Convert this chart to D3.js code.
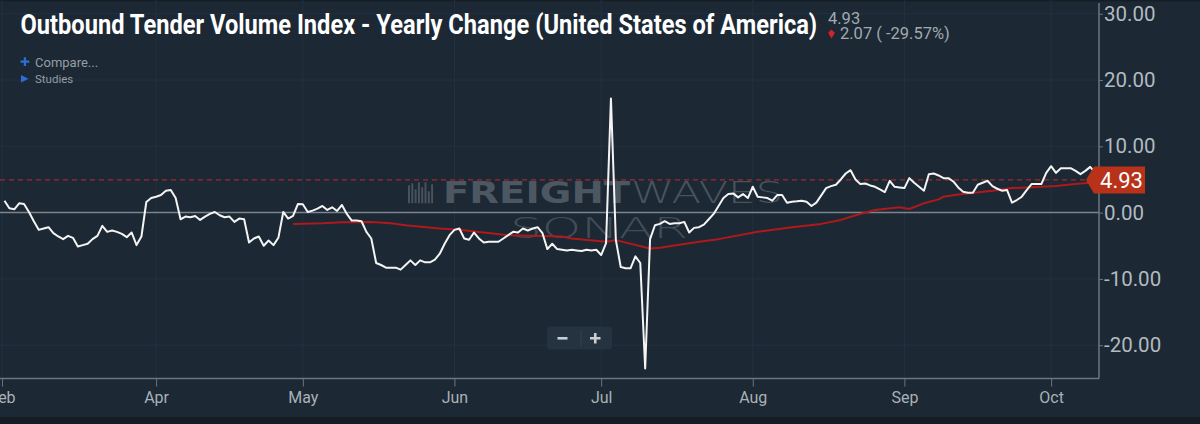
<!DOCTYPE html>
<html><head><meta charset="utf-8">
<script src="https://cdn.jsdelivr.net/npm/d3@7/dist/d3.min.js"></script>
<style>html,body{margin:0;padding:0;background:#1c2833;overflow:hidden}</style>
</head><body>
<svg id="chart" width="1200" height="424"></svg>
<script>
// ---------- data ----------
const chartTitle = "Outbound Tender Volume Index - Yearly Change (United States of America)";
const seriesStart = "2019-03-01";           // first daily observation
const otviValues = [
  1.8, 0.65, 0.5, 1.4, 1.3, 0.1, -1.3, -2.6, -2.4, -2.2,
  -3.1, -3.6, -4.0, -3.5, -3.8, -5.1, -4.9, -4.7, -4.0, -3.5,
  -2.0, -2.9, -2.7, -2.9, -3.2, -3.7, -3.0, -4.9, -3.6, 1.6,
  2.2, 2.4, 2.65, 3.3, 3.4, 2.2, -1.0, -0.6, -0.7, -0.5,
  -1.1, -0.6, -0.2, 0.1, -0.4, -0.7, -0.6, -1.4, -0.9, -1.0,
  -4.5, -3.9, -3.6, -5.0, -4.2, -4.9, -3.8, 0.1, -0.9, -0.5,
  1.3, 1.25, 0.1, 0.3, 0.6, 1.0, 0.4, 0.8, 0.25, 1.15,
  -0.2, -1.2, -1.2, -1.3, -2.9, -3.9, -7.6, -7.9, -8.3, -8.3,
  -8.3, -8.6, -7.9, -7.2, -7.9, -7.2, -7.5, -7.5, -7.1, -6.2,
  -4.7, -3.4, -2.6, -2.4, -3.9, -4.1, -3.0, -3.9, -4.5, -4.4,
  -4.4, -4.4, -3.9, -3.4, -2.9, -3.0, -2.4, -2.7, -2.4, -2.2,
  -3.1, -5.5, -4.7, -5.5, -5.6, -5.7, -5.6, -5.7, -5.8, -5.6,
  -5.7, -5.6, -6.4, -4.6, 17.2, -4.1, -8.2, -8.4, -8.4, -6.6,
  -7.6, -23.5, -4.0, -1.9, -1.7, -1.3, -1.7, -1.6, -1.6, -1.4,
  -3.0, -2.3, -2.2, -1.8, -1.0, -0.2, 1.0, 2.2, 2.8, 2.9,
  2.3, 2.8, 2.2, 3.9, 2.4, 2.3, 2.2, 1.8, 2.65, 2.65,
  1.5, 1.65, 1.7, 1.8, 1.65, 1.0, 1.5, 2.6, 3.7, 4.0,
  4.2, 5.0, 5.9, 6.4, 5.0, 4.3, 4.4, 4.1, 3.9, 3.5,
  3.1, 4.8, 3.9, 3.8, 3.7, 5.2, 4.5, 3.9, 3.3, 5.8,
  5.9, 5.6, 5.2, 5.2, 4.7, 3.8, 3.15, 3.0, 3.0, 4.2,
  4.5, 4.8, 4.0, 3.6, 3.3, 3.4, 1.5, 1.9, 2.4, 3.4,
  4.3, 4.3, 4.3, 6.0, 7.0, 6.0, 6.7, 6.7, 6.7, 6.3,
  5.8, 6.3, 6.9, 6.0
];
// moving-average (red) series: day offsets from seriesStart and values
const maDays = [59, 65, 69, 75, 79, 82, 89, 93, 103, 114, 116, 123, 125, 132, 134, 142, 146, 154, 161, 167,
  171, 174, 178, 183, 185, 188, 191, 192, 195, 202, 206, 212, 215, 220, 222];
const maValues = [-1.7, -1.6, -1.45, -1.4, -1.6, -1.9, -2.4, -2.6, -3.4, -3.6, -3.9, -4.4, -4.15, -5.4, -5.3, -4.4, -4.0, -2.9, -2.2, -1.7,
  -1.1, -0.4, 0.4, 0.8, 0.55, 1.4, 2.0, 2.4, 2.75, 3.3, 3.7, 3.9, 4.0, 4.4, 4.5];
const lastValue = 4.93;
const changeValue = "2.07";
const changePct = "( -29.57%)";
const yTickValues = [-20, -10, 0, 10, 20, 30];
const xTickDates = ["2019-02-28T12:00", "2019-04-01", "2019-05-01", "2019-06-01", "2019-07-01", "2019-08-01", "2019-09-01", "2019-10-01"];
const xTickLabels = ["Feb", "Apr", "May", "Jun", "Jul", "Aug", "Sep", "Oct"];

// ---------- layout ----------
const W = 1200, H = 424;
const plotRight = 1099, plotBottom = 378.5;
const svg = d3.select("#chart");
const parse = d3.isoParse;
const start = parse(seriesStart + "T00:00");

const x = d3.scaleTime()
  .domain([new Date(2019, 1, 28, 2), new Date(2019, 9, 10, 19)])
  .range([0, plotRight]);
const y = d3.scaleLinear().domain([-25.02, 32.07]).range([plotBottom, 0]);

const otvi = otviValues.map((v, i) => ({ date: d3.timeDay.offset(start, i), value: v }));
const ma = maDays.map((d, i) => ({ date: d3.timeDay.offset(start, d), value: maValues[i] }));
const tickDates = xTickDates.map(s => parse(s.length > 10 ? s : s + "T00:00"));

// background
svg.append("rect").attr("width", W).attr("height", H).attr("fill", "#1c2833");
svg.append("rect").attr("width", W).attr("height", 1.5).attr("fill", "#151e27");
svg.append("rect").attr("y", 417).attr("width", W).attr("height", 7).attr("fill", "#141c24");

// grid
const grid = svg.append("g").attr("stroke", "#233140").attr("stroke-width", 1);
grid.selectAll("line.h").data(yTickValues).join("line")
  .attr("x1", 0).attr("x2", plotRight).attr("y1", d => y(d)).attr("y2", d => y(d));
grid.selectAll("line.v").data(tickDates).join("line")
  .attr("y1", 0).attr("y2", plotBottom).attr("x1", d => x(d)).attr("x2", d => x(d));

// watermark
const wm = svg.append("g").attr("opacity", 0.9);
const barH = [18, 20, 14, 21, 16, 21, 12, 19];
wm.selectAll("rect").data(barH).join("rect")
  .attr("x", (d, i) => 408 + i * 3.3).attr("width", 2)
  .attr("y", d => 203.3 - d).attr("height", d => d).attr("fill", "#4c5762");
wm.append("text").attr("x", 443).attr("y", 203.3).text("FREIGHT")
  .attr("font-family", "DejaVu Sans").attr("font-weight", 700).attr("font-size", 30)
  .attr("textLength", 187).attr("lengthAdjust", "spacingAndGlyphs").attr("fill", "#525d68");
wm.append("text").attr("x", 631).attr("y", 203.3).text("WAVES")
  .attr("font-family", "DejaVu Sans").attr("font-weight", 200).attr("font-size", 30)
  .attr("textLength", 152).attr("lengthAdjust", "spacingAndGlyphs").attr("fill", "#4d5863");
wm.append("text").attr("x", 510).attr("y", 238).text("SONAR")
  .attr("font-family", "DejaVu Sans").attr("font-weight", 200).attr("font-size", 29)
  .attr("textLength", 178).attr("lengthAdjust", "spacingAndGlyphs").attr("fill", "#46515c");

// zero line
svg.append("line").attr("x1", 0).attr("x2", plotRight).attr("y1", y(0)).attr("y2", y(0))
  .attr("stroke", "#7b858e").attr("stroke-width", 1.5);
// last value dashed line
svg.append("line").attr("x1", 0).attr("x2", plotRight).attr("y1", y(lastValue)).attr("y2", y(lastValue))
  .attr("stroke", "#a3282a").attr("stroke-width", 1.2).attr("stroke-dasharray", "5,4");

// series
const line = d3.line().x(d => x(d.date)).y(d => y(d.value));
svg.append("path").datum(ma).attr("d", line).attr("fill", "none")
  .attr("stroke", "#b0191c").attr("stroke-width", 2).attr("stroke-linejoin", "round");
svg.append("path").datum(otvi).attr("d", line).attr("fill", "none")
  .attr("stroke", "#f4f4f4").attr("stroke-width", 2).attr("stroke-linejoin", "round");

// axes
const yAxis = d3.axisRight(y).tickValues(yTickValues).tickSize(4).tickSizeOuter(0).tickPadding(1)
  .tickFormat(d => d.toFixed(2));
const gy = svg.append("g").attr("transform", `translate(${plotRight},0)`).call(yAxis);
gy.select(".domain").attr("stroke", "#6c7680").attr("stroke-width", 1.5).attr("d", `M0,3V${plotBottom}`);
gy.selectAll(".tick line").attr("stroke", "#6c7680");
gy.selectAll("text").attr("fill", "#b3bac0").attr("font-family", "Roboto").attr("font-size", 20.5);

const xAxis = d3.axisBottom(x).tickValues(tickDates).tickSize(8).tickSizeOuter(0).tickPadding(5)
  .tickFormat((d, i) => xTickLabels[i]);
const gx = svg.append("g").attr("transform", `translate(0,${plotBottom})`).call(xAxis);
gx.select(".domain").attr("stroke", "#6c7680").attr("stroke-width", 1.5).attr("d", `M0,0H${plotRight}`);
gx.selectAll(".tick line").attr("stroke", "#6c7680");
gx.selectAll("text").attr("fill", "#a9b1b8").attr("font-family", "Roboto").attr("font-size", 16);

// last value badge
const yv = y(lastValue);
const badge = d3.path();
badge.moveTo(1086, yv); badge.lineTo(1094, yv - 13.5); badge.lineTo(1145, yv - 13.5);
badge.lineTo(1145, yv + 13.5); badge.lineTo(1094, yv + 13.5); badge.closePath();
svg.append("path").attr("d", badge.toString()).attr("fill", "#b8321a");
svg.append("text").attr("x", 1121.5).attr("y", yv).attr("dy", "0.36em").attr("text-anchor", "middle")
  .text(lastValue.toFixed(2)).attr("fill", "#ffffff").attr("font-family", "Roboto").attr("font-size", 22);

// header: condensed bold title (horizontally scaled to the reference width)
const titleEl = svg.append("text").attr("x", 0).attr("y", 0).text(chartTitle)
  .attr("font-family", "Roboto").attr("font-weight", 700).attr("font-size", 27).attr("fill", "#ffffff");
const natural = titleEl.node().getComputedTextLength() || 1057;
titleEl.attr("transform", `translate(20.5,33.5) scale(${797 / natural},1)`);

svg.append("text").attr("x", 828).attr("y", 23.5).text(lastValue.toFixed(2))
  .attr("font-family", "Roboto").attr("font-size", 16.5).attr("fill", "#a2aab1");
svg.append("path").attr("d", "M828.5,32.5 L831.5,29.5 L834.5,32.5 L834.5,33.5 L831.5,38.5 L828.5,33.5 Z").attr("fill", "#d0232a");
svg.append("text").attr("x", 840).attr("y", 38.5).text(changeValue + " " + changePct)
  .attr("font-family", "Roboto").attr("font-size", 16.5).attr("fill", "#a2aab1");

svg.append("path").attr("d", "M20.5,61.7H29.3M24.9,57.3V66").attr("stroke", "#2d6fd6").attr("stroke-width", 2.2);
svg.append("text").attr("x", 35).attr("y", 66.5).text("Compare...")
  .attr("font-family", "Roboto").attr("font-size", 13).attr("fill", "#959ea6");
svg.append("path").attr("d", "M21,75 L28.5,78.7 L21,82.4 Z").attr("fill", "#2d6fd6");
svg.append("text").attr("x", 35).attr("y", 82.5).text("Studies")
  .attr("font-family", "Roboto").attr("font-size", 11.5).attr("fill", "#959ea6");

// zoom buttons
const zb = svg.append("g");
zb.append("rect").attr("x", 547).attr("y", 326.5).attr("width", 65).attr("height", 23).attr("rx", 3).attr("fill", "#253340");
zb.append("line").attr("x1", 581).attr("x2", 581).attr("y1", 330).attr("y2", 346).attr("stroke", "#34424f");
zb.append("path").attr("d", "M557.5,338.3H567.5").attr("stroke", "#c9ced3").attr("stroke-width", 2.6);
zb.append("path").attr("d", "M590,338.3H600.5M595.25,333V343.6").attr("stroke", "#c9ced3").attr("stroke-width", 2.6);
</script>
</body></html>
